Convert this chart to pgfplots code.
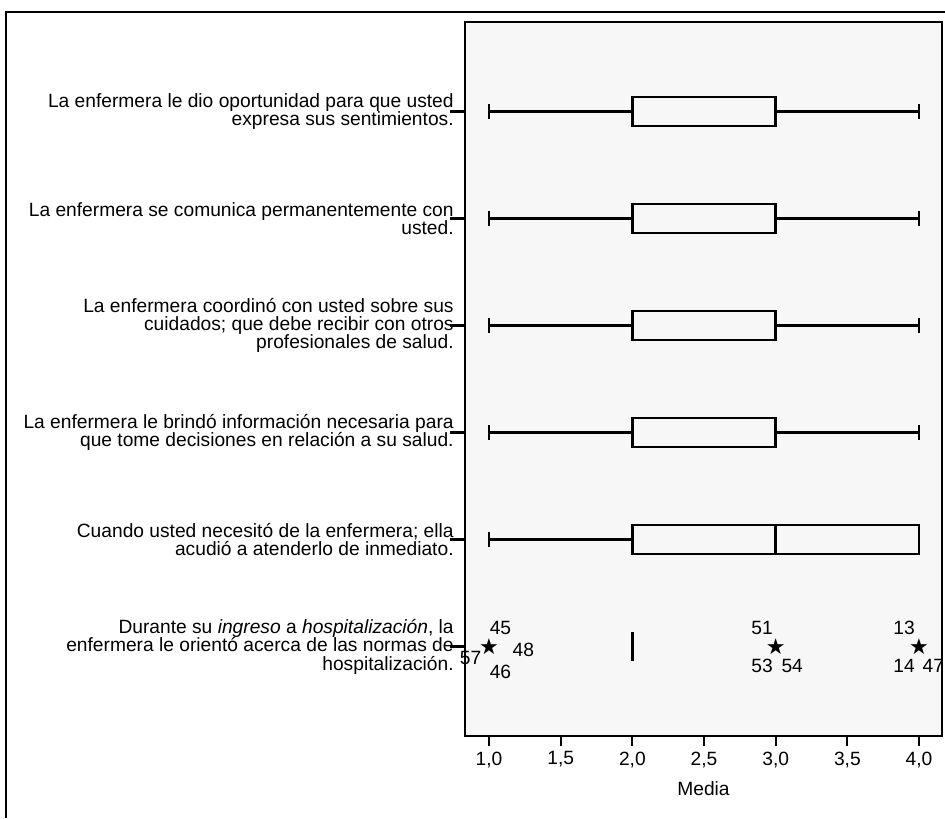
\documentclass[border=0pt]{standalone}
\usepackage{fontspec}
\setmainfont{Liberation Sans}
\newfontfamily\dejavu{DejaVu Sans}
\usepackage{pgfplots}
\pgfplotsset{compat=1.18}
\usepgfplotslibrary{statistics}

% 1 px of the reference = 0.5pt
\newcommand{\lbl}{\fontsize{9.6}{9.2}\selectfont}

\begin{document}
\begin{tikzpicture}
\begin{axis}[
  name=a,
  scale only axis,
  width=238.5pt, height=357pt,
  xmin=0.8325, xmax=4.16,
  ymin=0.164, ymax=6.836, y dir=reverse,
  axis background/.style={fill=black!3},
  axis line style={line width=1.3pt},
  tick align=outside,
  xtick pos=bottom, ytick pos=left,
  xtick={1,1.5,...,4},
  ytick={1,...,6},
  xtick style={/pgfplots/major tick length=5pt, line width=1.1pt, black},
  ytick style={/pgfplots/major tick length=7.5pt, line width=1.1pt, black},
  /pgf/number format/assume math mode=true,
  xticklabel style={/pgf/number format/.cd, use comma, fixed, fixed zerofill, precision=1},
  tick label style={font=\lbl},
  yticklabel style={align=right, inner sep=1.2pt},
  yticklabels={
    {La enfermera le dio oportunidad para que usted\\expresa sus sentimientos.},
    {La enfermera se comunica permanentemente con\\usted.},
    {La enfermera coordinó con usted sobre sus\\cuidados; que debe recibir con otros\\profesionales de salud.},
    {La enfermera le brindó información necesaria para\\que tome decisiones en relación a su salud.},
    {Cuando usted necesitó de la enfermera; ella\\acudió a atenderlo de inmediato.},
    {Durante su \textit{ingreso} a \textit{hospitalización}, la\\enfermera le orientó acerca de las normas de\\hospitalización.}
  },
  xlabel={Media},
  label style={font=\lbl},
  boxplot/draw direction=x,
  boxplot/box extend=0.27,
  boxplot/whisker extend=0.14,
  clip=false,
]
\addplot[black, line width=1.3pt, boxplot prepared={draw position=1,
  lower whisker=1, lower quartile=2, median=3, upper quartile=3, upper whisker=4}] coordinates {};
\addplot[black, line width=1.3pt, boxplot prepared={draw position=2,
  lower whisker=1, lower quartile=2, median=3, upper quartile=3, upper whisker=4}] coordinates {};
\addplot[black, line width=1.3pt, boxplot prepared={draw position=3,
  lower whisker=1, lower quartile=2, median=3, upper quartile=3, upper whisker=4}] coordinates {};
\addplot[black, line width=1.3pt, boxplot prepared={draw position=4,
  lower whisker=1, lower quartile=2, median=3, upper quartile=3, upper whisker=4}] coordinates {};
\addplot[black, line width=1.3pt, boxplot prepared={draw position=5,
  lower whisker=1, lower quartile=2, median=3, upper quartile=4, upper whisker=4}] coordinates {};
\addplot[black, line width=1.6pt, boxplot prepared={draw position=6,
  lower whisker=2, lower quartile=2, median=2, upper quartile=2, upper whisker=2}] coordinates {};

% extreme values of the last item
\addplot[only marks, mark=text,
  text mark={\fontsize{11}{11}\selectfont\dejavu ★}]
  coordinates {(1,6) (3,6) (4,6)};

\node[font=\lbl] at (axis cs:1.08,5.83) {45};
\node[font=\lbl] at (axis cs:1.24,6.03) {48};
\node[font=\lbl] at (axis cs:1.08,6.24) {46};
\node[font=\lbl] at (axis cs:0.872,6.11) {57};
\node[font=\lbl] at (axis cs:2.905,5.83) {51};
\node[font=\lbl] at (axis cs:2.905,6.18) {53};
\node[font=\lbl] at (axis cs:3.115,6.18) {54};
\node[font=\lbl] at (axis cs:3.895,5.83) {13};
\node[font=\lbl] at (axis cs:3.895,6.18) {14};
\node[font=\lbl] at (axis cs:4.10,6.18) {47};
\end{axis}

% outer frame of the figure
\draw[line width=1.2pt]
  ([xshift=-229.5pt, yshift=-41pt]a.south west) --
  ([xshift=-229.5pt, yshift=5pt]a.north west) --
  ([xshift=1.5pt, yshift=5pt]a.north east);

\pgfresetboundingbox
\path[use as bounding box]
  ([xshift=-232.5pt, yshift=-41pt]a.south west) rectangle
  ([xshift=1.5pt, yshift=11pt]a.north east);
\end{tikzpicture}
\end{document}
